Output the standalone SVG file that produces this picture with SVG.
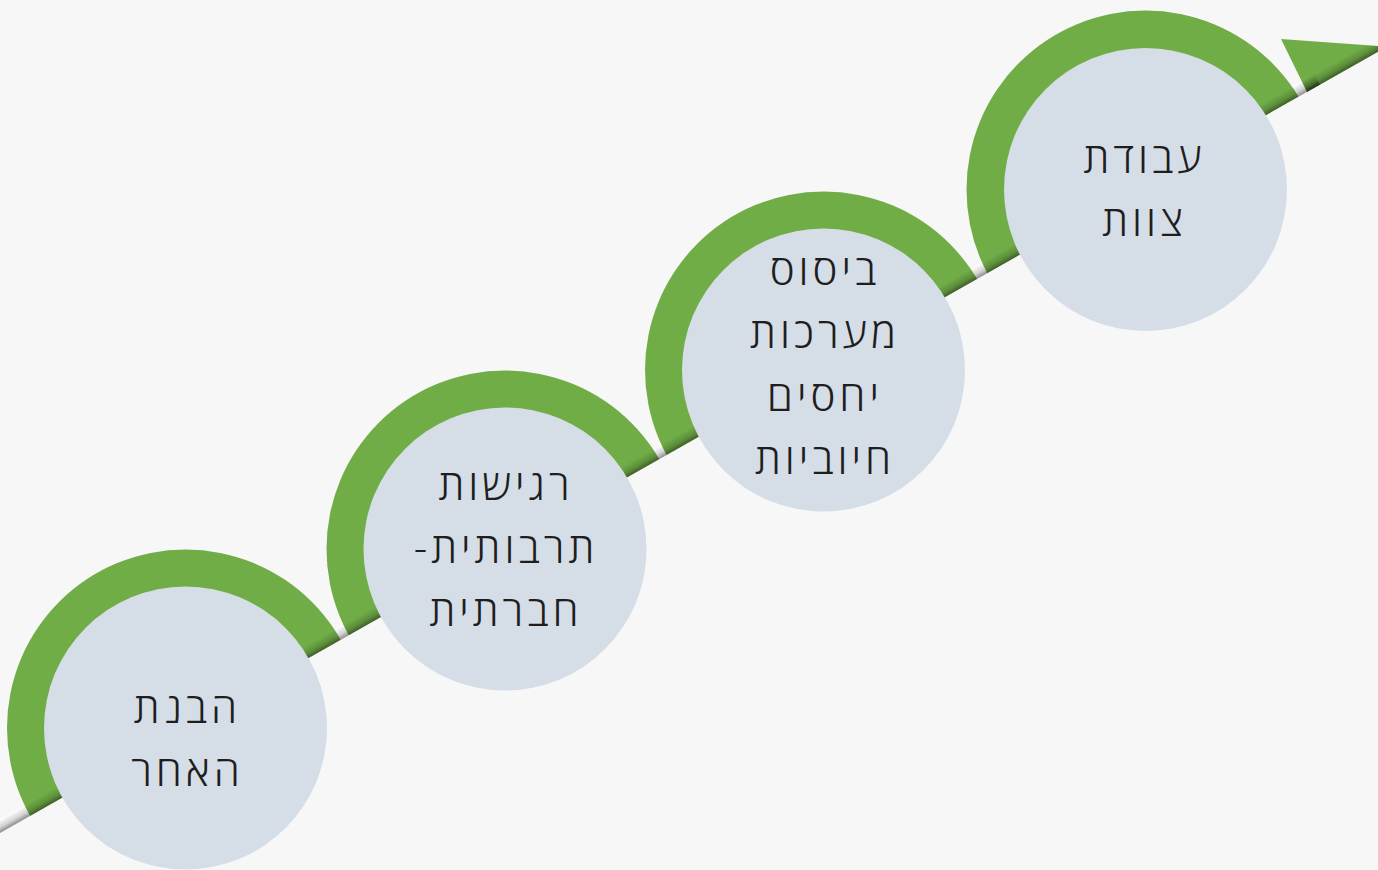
<svg xmlns="http://www.w3.org/2000/svg" width="1378" height="870" viewBox="0 0 1378 870">
  <style>
    .ring { fill: #70ad47; }
    .disc { fill: #d5dde6; }
    .lbl { font-family: "Open Sans", "DejaVu Sans", sans-serif; font-weight: 350; font-size: 42px; letter-spacing: 4px; fill: #1e1e1e; text-anchor: middle; direction: rtl; unicode-bidi: plaintext; }
  </style>
  <defs>
    <clipPath id="above">
      <polygon points="-10,838.6 1400,39.1 1400,-10 -10,-10"/>
    </clipPath>
    <linearGradient id="shadow" gradientUnits="userSpaceOnUse" x1="700" y1="436.07" x2="694.08" y2="425.63">
      <stop offset="0" stop-color="#000" stop-opacity="0.45"/>
      <stop offset="0.4" stop-color="#000" stop-opacity="0.18"/>
      <stop offset="1" stop-color="#000" stop-opacity="0"/>
    </linearGradient>
  </defs>
  <rect width="1378" height="870" fill="#f7f7f7"/>

  <g id="connectors">
    <polygon id="band" points="-10,838.6 1320,84.5 1314.1,74.1 -15.9,828.2" fill="#ffffff"/>
  </g>

  <g id="rings" clip-path="url(#above)">
    <circle class="ring" cx="185.5" cy="728" r="178.5"/>
    <circle class="ring" cx="505" cy="549" r="178.5"/>
    <circle class="ring" cx="823.5" cy="370" r="178.5"/>
    <circle class="ring" cx="1145.5" cy="189.5" r="179"/>
  </g>

  <g id="arrowhead">
    <polygon class="ring" points="1281,39 1387,46.6 1307,92"/>
  </g>

  <g id="shading">
    <polygon points="-10,838.6 1320,84.5 1314.1,74.1 -15.9,828.2" fill="url(#shadow)"/>
    <polygon points="1281,39 1387,46.6 1307,92" fill="url(#shadow)"/>
  </g>

  <g id="node1">
    <circle class="disc" cx="185.5" cy="728" r="141.5"/>
    <text class="lbl" x="187.5" y="723">הבנת</text>
    <text class="lbl" x="187.5" y="786">האחר</text>
  </g>
  <g id="node2">
    <circle class="disc" cx="505" cy="549" r="141.5"/>
    <text class="lbl" x="506" y="500">רגישות</text>
    <text class="lbl" x="506" y="563">תרבותית-</text>
    <text class="lbl" x="506" y="626">חברתית</text>
  </g>
  <g id="node3">
    <circle class="disc" cx="823.5" cy="370" r="141.5"/>
    <text class="lbl" x="825" y="285">ביסוס</text>
    <text class="lbl" x="825" y="348">מערכות</text>
    <text class="lbl" x="825" y="411">יחסים</text>
    <text class="lbl" x="825" y="474">חיוביות</text>
  </g>
  <g id="node4">
    <circle class="disc" cx="1145.5" cy="189.5" r="141.5"/>
    <text class="lbl" x="1144.5" y="173">עבודת</text>
    <text class="lbl" x="1144.5" y="236">צוות</text>
  </g>
</svg>
